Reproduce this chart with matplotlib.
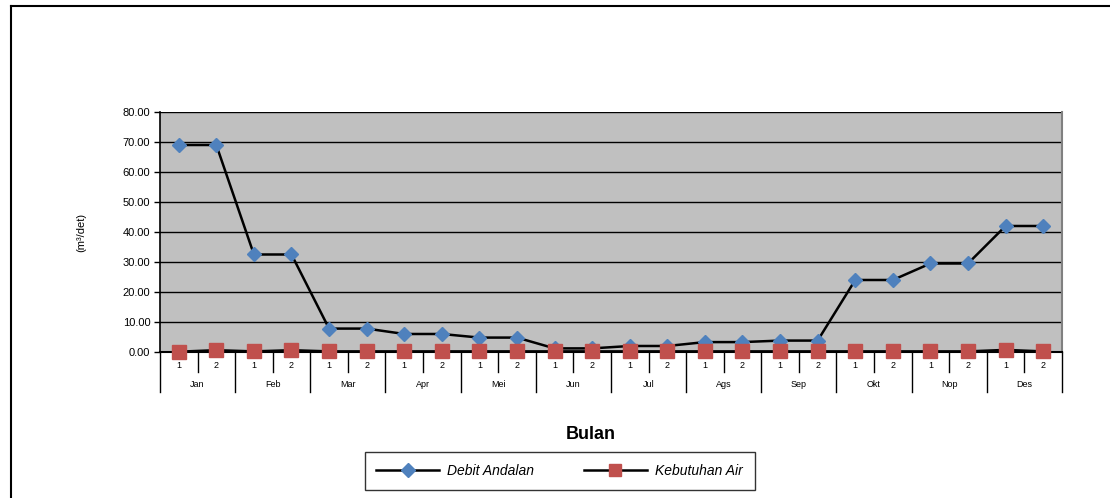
import matplotlib
matplotlib.use("Agg")
from matplotlib import pyplot as plt
from matplotlib.lines import Line2D

plt.rcParams['font.family'] = ['Liberation Sans', 'DejaVu Sans']

bulan = ["Jan", "Feb", "Mar", "Apr", "Mei", "Jun", "Jul", "Ags", "Sep", "Okt", "Nop", "Des"]
periode = ["1", "2"]

# debit andalan per setengah bulan (m3/det)
debit_andalan = [69.0, 69.0, 32.5, 32.5, 7.8, 7.8, 6.0, 6.0, 4.8, 4.8, 1.2, 1.2,
                 2.0, 2.0, 3.3, 3.3, 3.8, 3.8, 24.0, 24.0, 29.5, 29.5, 42.0, 42.0]
kebutuhan_air = [0.1, 0.6, 0.2, 0.6, 0.2, 0.2, 0.2, 0.2, 0.2, 0.2, 0.2, 0.2,
                 0.2, 0.2, 0.2, 0.2, 0.2, 0.2, 0.2, 0.2, 0.2, 0.2, 0.7, 0.2]

yticks = [0, 10, 20, 30, 40, 50, 60, 70, 80]

fig = plt.figure(figsize=(11.1, 4.98), dpi=100)

# garis tepi chart
fig.add_artist(Line2D([0.0095, 1.0], [0.988, 0.988], color="black", lw=1.5,
                      transform=fig.transFigure))
fig.add_artist(Line2D([0.0095, 0.0095], [0.0, 0.988], color="black", lw=1.5,
                      transform=fig.transFigure))

ax = fig.add_axes([0.1441, 0.2932, 0.8126, 0.4819])
ax.set_facecolor("#C0C0C0")

n = len(debit_andalan)
x = list(range(n))

for y in yticks:
    ax.axhline(y, color="black", lw=1.0, zorder=1)

ax.plot(x, debit_andalan, color="black", lw=1.8, marker="D", markersize=7.5,
        markerfacecolor="#4F81BD", markeredgecolor="#4F81BD", zorder=3,
        label="Debit Andalan")
ax.plot(x, kebutuhan_air, color="black", lw=1.8, marker="s", markersize=10.5,
        markerfacecolor="#C0504D", markeredgecolor="#C0504D", zorder=4,
        label="Kebutuhan Air", clip_on=False)

ax.set_xlim(-0.5, n - 0.5)
ax.set_ylim(0, 80)
ax.set_yticks(yticks)
ax.set_yticklabels(["%.2f" % v for v in yticks], fontsize=8)
ax.tick_params(axis="y", length=4, width=1, pad=3)
ax.set_xticks([])

ax.spines["top"].set_visible(False)
ax.spines["right"].set_color("#808080")
ax.spines["right"].set_linewidth(1.5)
ax.spines["left"].set_linewidth(1.2)
ax.spines["bottom"].set_linewidth(1.5)

# sumbu x bertingkat: periode dan bulan
tr = ax.get_xaxis_transform()
for i in range(len(bulan)):
    left = 2 * i - 0.5
    ax.plot([left, left], [0, -0.167], color="black", lw=1, transform=tr, clip_on=False)
    ax.plot([left + 1, left + 1], [0, -0.083], color="black", lw=1, transform=tr, clip_on=False)
    for j, p in enumerate(periode):
        ax.text(2 * i + j, -0.056, p, transform=tr, ha="center", va="center", fontsize=6.5)
    ax.text(2 * i + 0.5, -0.135, bulan[i], transform=tr, ha="center", va="center", fontsize=6.5)
ax.plot([n - 0.5, n - 0.5], [0, -0.167], color="black", lw=1, transform=tr, clip_on=False)

ax.set_ylabel("(m³/det)", fontsize=8, labelpad=26)
fig.text(0.532, 0.127, "Bulan", ha="center", va="center", fontsize=13, fontweight="bold")

leg = fig.legend(loc="center", bbox_to_anchor=(0.5041, 0.0542), ncol=2, frameon=True,
                 fancybox=False, edgecolor="black", handlelength=4.5,
                 columnspacing=3.6, borderpad=0.85, handletextpad=0.6,
                 prop={"style": "italic", "size": 10})
leg.get_frame().set_linewidth(1.0)
for h in leg.legend_handles:
    h.set_markersize(7 if h.get_marker() == "D" else 8)

fig.savefig("out.png", dpi=100)
